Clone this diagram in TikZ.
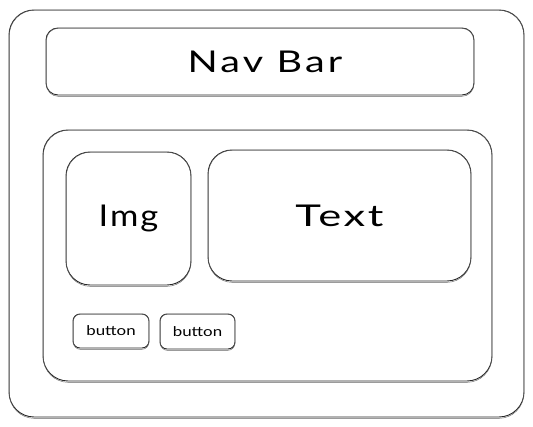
\documentclass[tikz,border=0pt]{standalone}
\usepackage{fontspec}
\usepackage{graphicx}
\setmainfont{Lato}
\begin{document}
\begin{tikzpicture}[x=1pt,y=-1pt,
  box/.style={draw=black!85, line width=0.9pt, inner sep=0pt, fill=none},
  ghost/.style={draw=black!60, line width=0.45pt},
  big/.style={font=\fontsize{30}{34}\selectfont},
  small/.style={font=\fontsize{13.5}{15}\selectfont}]
\useasboundingbox[fill=white] (0,0) rectangle (533,427);
\node[box, rounded corners=25pt, minimum width=515pt, minimum height=407pt] (outer) at (266.5,213.5) {};
\node[box, rounded corners=12pt, minimum width=428pt, minimum height=67pt, big] (nav) at (260,61.5) {\hspace*{10pt}\scalebox{1.32}[1]{\addfontfeature{LetterSpace=8}Nav Bar}};
\node[box, rounded corners=25pt, minimum width=449pt, minimum height=251pt] (content) at (267.5,255.5) {};
\node[box, rounded corners=24pt, minimum width=125pt, minimum height=133pt, big] (img) at (128.5,218.5) {\scalebox{1.15}[1]{\addfontfeature{LetterSpace=6}Img}};
\node[box, rounded corners=24pt, minimum width=263pt, minimum height=131pt, big] (text) at (339.5,215.5) {\scalebox{1.45}[1]{\addfontfeature{LetterSpace=6}Text}};
\node[box, rounded corners=7pt, minimum width=76pt, minimum height=34pt, small] (b1) at (111,331) {\scalebox{1.25}[1]{button}};
\node[box, rounded corners=7pt, minimum width=75pt, minimum height=35pt, small] (b2) at (197.5,331.5) {\scalebox{1.25}[1]{button}};
% second sketch strokes
\foreach \n/\r in {outer/25pt, nav/12pt, content/25pt, img/24pt, text/24pt, b1/7pt, b2/7pt}{
  \draw[ghost, rounded corners=\r] ([shift={(0.8,0.7)}]\n.north west) rectangle ([shift={(-0.6,0.9)}]\n.south east);
}
\end{tikzpicture}
\end{document}
